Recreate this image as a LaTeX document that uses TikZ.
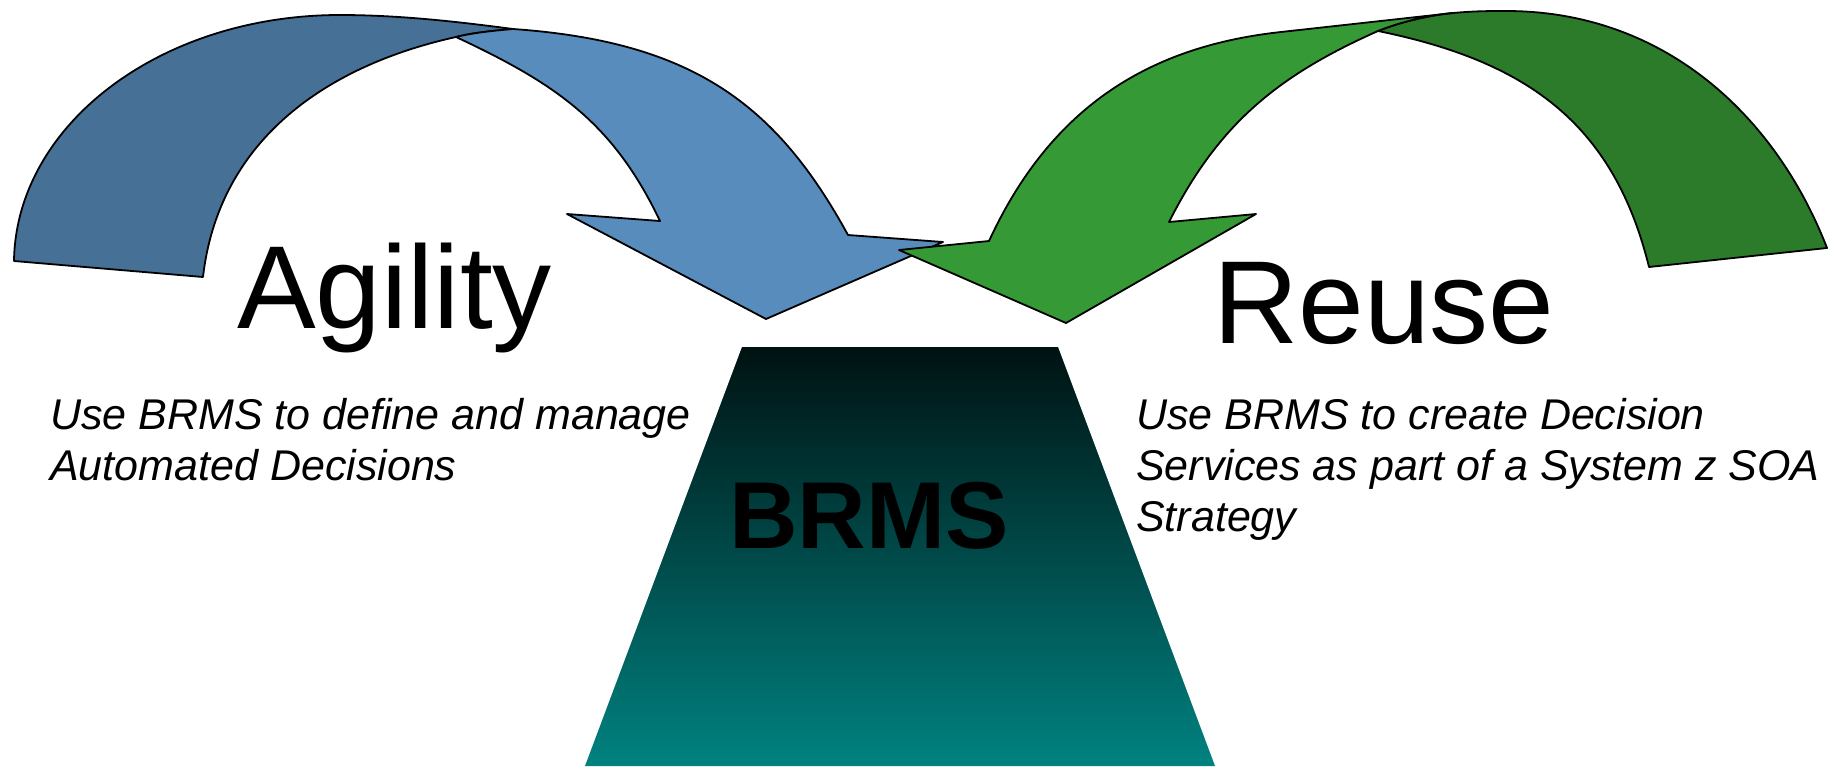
\documentclass[tikz,border=0pt]{standalone}
\usepackage{fontspec}
\setmainfont{Liberation Sans}
\definecolor{blueDark}{RGB}{70,112,150}
\definecolor{blueLight}{RGB}{87,140,188}
\definecolor{greenLight}{RGB}{53,154,53}
\definecolor{greenDark}{RGB}{43,123,43}
\definecolor{tealTop}{RGB}{0,18,18}
\definecolor{tealMid}{RGB}{0,82,82}
\definecolor{tealBot}{RGB}{0,130,128}
\begin{document}
\begin{tikzpicture}[x=1pt,y=-1pt,
  band/.style={draw=black,line width=1.8pt,line join=round},
  title/.style={anchor=base west,inner sep=0pt,font=\fontsize{118}{118}\selectfont},
  note/.style={anchor=base west,inner sep=0pt,font=\fontsize{43}{51}\selectfont\itshape}]
\useasboundingbox (0,0) rectangle (1833,766);

% ---- Agility arrow: back half (dark) ----
\path[band,fill=blueDark]
  (14,261) .. controls (16,125) and (160,15) .. (340,15)
  .. controls (400,15) and (460,22) .. (513,29)
  .. controls (490,31) and (472,33) .. (456,37)
  .. controls (329,65) and (219,138) .. (203,277)
  -- cycle;
% ---- Agility arrow: front half with head (light) ----
\path[band,fill=blueLight]
  (456,37) .. controls (472,33) and (490,31) .. (513,29)
  .. controls (692,41.6) and (776,103.5) .. (848,235)
  -- (943,242) -- (766,319) -- (567,214) -- (660,221)
  .. controls (612.7,122) and (555.5,83.6) .. (456,37)
  -- cycle;

% ---- Reuse arrow: back half (dark) ----
\path[band,fill=greenDark]
  (1453,13) .. controls (1475,11) and (1490,11) .. (1506,11)
  .. controls (1666,11) and (1776.6,117.8) .. (1827,248)
  -- (1649,267)
  .. controls (1613,121.5) and (1525,61) .. (1378,31)
  .. controls (1400,22) and (1430,15) .. (1453,13)
  -- cycle;
% ---- Reuse arrow: front half with head (light) ----
\path[band,fill=greenLight]
  (1453,13) -- (1281,32)
  .. controls (1152,46) and (1052,104.5) .. (989,241)
  -- (899,250) -- (1066,323) -- (1256,214) -- (1169,222)
  .. controls (1218.5,124) and (1277.5,75.7) .. (1378,31)
  .. controls (1400,22) and (1430,15) .. (1453,13)
  -- cycle;

% ---- BRMS trapezoid ----
\shade[top color=tealTop,middle color=tealMid,bottom color=tealBot]
  (742,347) -- (1058,347) -- (1215,766) -- (585,766) -- cycle;
\node[anchor=base west,inner sep=0pt,font=\fontsize{95}{95}\selectfont\bfseries]
  (brms) at (729,548) {BRMS};

% ---- titles ----
\node[title] (agility) at (237,328) {Agility};
\node[title] (reuse) at (1213,343) {Reuse};

% ---- descriptions ----
\node[note] (agiA) at (50,429) {Use BRMS to define and manage};
\node[note] (agiB) at (50,480) {Automated Decisions};
\node[note] (reuA) at (1136,429) {Use BRMS to create Decision};
\node[note] (reuB) at (1136,480) {Services as part of a System z SOA};
\node[note] (reuC) at (1136,531) {Strategy};
\end{tikzpicture}
\end{document}
